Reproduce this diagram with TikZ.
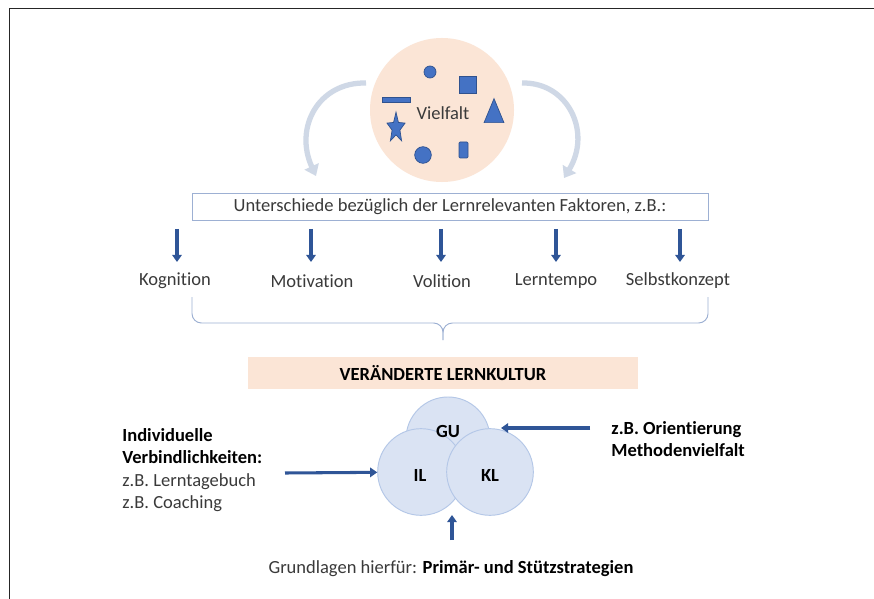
\documentclass[tikz,border=0pt]{standalone}
\usepackage{fontspec}
\setmainfont[Ligatures=NoCommon]{Carlito}
\usetikzlibrary{arrows.meta,shapes.geometric}
\definecolor{peach}{HTML}{FBE5D6}
\definecolor{dblue}{HTML}{2F5597}
\definecolor{sblue}{HTML}{4472C4}
\definecolor{sedge}{HTML}{2F528F}
\definecolor{lblue}{HTML}{DAE3F3}
\definecolor{cedge}{HTML}{B4C7E7}
\definecolor{boxedge}{HTML}{9DB0D3}
\definecolor{arcc}{HTML}{CFD8E6}
\definecolor{txt}{HTML}{3A3A3A}
\begin{document}
\begin{tikzpicture}[x=0.03cm,y=-0.03cm,
  font=\fontsize{15.8}{19}\selectfont,
  every node/.style={text=txt},
  darr/.style={draw=dblue,line width=2.6pt,-{Triangle[width=8pt,length=6pt]}},
  arcarr/.style={draw=arcc,line width=4.5pt,-{Triangle[width=13pt,length=9pt]}},
  shp/.style={fill=sblue,draw=sedge,line width=0.6pt},
  lab/.style={inner sep=1pt},
  bfl/.style={lab,font=\fontsize{15.8}{19}\selectfont\bfseries,text=black},
  venn/.style={circle,fill=lblue,draw=cedge,line width=0.8pt,inner sep=0pt}]
\useasboundingbox (0,0) rectangle (874,599);
\fill[white] (0,0) rectangle (874,599);
\draw[line width=1.3pt,black!85] (9.5,599) -- (9.5,8.5) -- (874,8.5);

% Vielfalt circle
\node[circle,fill=peach,minimum size=4.32cm,inner sep=0pt] (vf) at (442,110) {};
\node[lab] (vft) at (443,113) {Vielfalt};
\node[circle,shp,minimum size=0.36cm,inner sep=0pt] (s1) at (430,72) {};
\node[rectangle,shp,minimum size=0.5cm,inner sep=0pt] (s2) at (468,85) {};
\node[rectangle,shp,minimum width=0.84cm,minimum height=0.15cm,inner sep=0pt] (s3) at (396,99.5) {};
\node[shp,star,star points=5,star point ratio=2.3,minimum size=0.95cm,inner sep=0pt,xscale=0.6] (s4) at (396,128) {};
\node[shp,isosceles triangle,isosceles triangle apex angle=45,shape border rotate=90,minimum height=0.72cm,inner sep=0pt] (s5) at (494,116) {};
\node[circle,shp,minimum size=0.5cm,inner sep=0pt] (s6) at (423,155) {};
\node[rectangle,rounded corners=1pt,shp,minimum width=0.27cm,minimum height=0.48cm,inner sep=0pt] (s7) at (463.5,150) {};

% curved arrows
\coordinate (a1s) at (366,83);
\coordinate (a1e) at (316,176);
\coordinate (a2s) at (522,83);
\coordinate (a2e) at (564,178);
\draw[arcarr] (a1s) .. controls (318,82) and (294,128) .. (a1e);
\draw[arcarr] (a2s) .. controls (568,82) and (592,132) .. (a2e);

% factor box
\node[draw=boxedge,line width=0.8pt,minimum width=15.48cm,minimum height=0.81cm,inner sep=0pt] (ub) at (450,206.5) {Unterschiede bezüglich der Lernrelevanten Faktoren, z.B.:};

% factors
\node[lab] (f1) at (175,281) {Kognition};
\node[lab] (f2) at (312,281) {Motivation};
\node[lab] (f3) at (442,281) {Volition};
\node[lab] (f4) at (556,281) {Lerntempo};
\node[lab] (f5) at (678,281) {Selbstkonzept};
\foreach \i/\xx in {1/177,2/311,3/441,4/556,5/680}{
  \coordinate (d\i) at (\xx,229);
  \draw[darr] (d\i) -- (\xx,262);
}

% brace
\coordinate (bl) at (192,297);
\coordinate (br) at (708,297);
\coordinate (bm) at (443,340);
\draw[draw=boxedge,line width=0.8pt,rounded corners=8pt] (bl) -- (192,323) -- (443,323) -- (bm);
\draw[draw=boxedge,line width=0.8pt,rounded corners=8pt] (br) -- (708,323) -- (443,323) -- (bm);

% Lernkultur box
\node[fill=peach,minimum width=11.7cm,minimum height=0.96cm,inner sep=0pt,bfl] (vl) at (443,373) {VERÄNDERTE LERNKULTUR};

% Venn circles
\node[venn,minimum size=2.52cm] (gu) at (448,439) {};
\node[venn,minimum size=2.6cm] (il) at (421,472) {};
\node[venn,minimum size=2.6cm] (kl) at (490,472) {};
\node[bfl] (gut) at (448,431) {GU};
\node[bfl] (ilt) at (420,475) {IL};
\node[bfl] (klt) at (490,475) {KL};

% side texts
\node[lab,anchor=west,align=left,font=\fontsize{15.8}{19}\selectfont] (lt) at (121,470)
  {\textcolor{black}{\textbf{Individuelle}}\\\textcolor{black}{\textbf{Verbindlichkeiten:}}\\z.B. Lerntagebuch\\z.B. Coaching};
\node[bfl,anchor=west,align=left] (rt) at (610,439)
  {z.B. Orientierung\\Methodenvielfalt};
\node[lab] (bt) at (451,569) {Grundlagen hierfür: \textcolor{black}{\textbf{Primär- und Stützstrategien}}};

% arrows to venn
\coordinate (la) at (285,473);
\draw[darr] (la) -- (il);
\coordinate (ra) at (590,428);
\draw[darr,shorten >=9pt] (ra) -- (ra -| gu.east);
\coordinate (ba) at (452,540);
\draw[darr] (ba) -- (452,515);
\end{tikzpicture}
\end{document}
